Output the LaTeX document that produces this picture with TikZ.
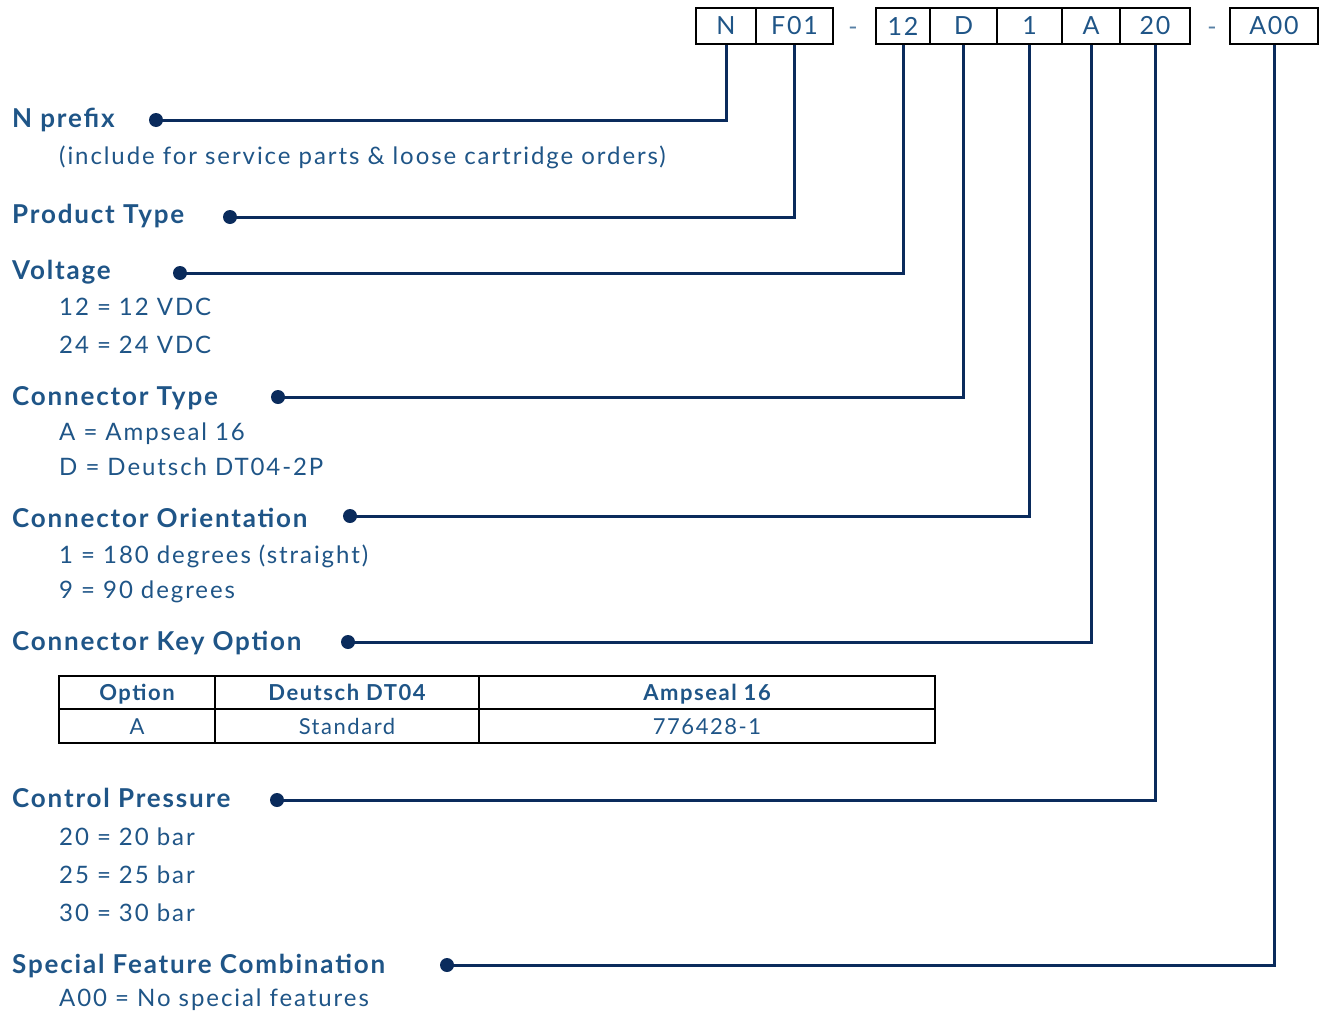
\documentclass[tikz,border=0pt]{standalone}
\usepackage{fontspec}
\setmainfont{Lato}[LetterSpace=7]
\usepackage{tikz}
\usetikzlibrary{positioning}

\definecolor{codeblue}{HTML}{1F5587}
\definecolor{linenavy}{HTML}{0A2B5C}

\tikzset{
    codebox/.style={draw=black, line width=1.6pt, minimum height=36pt, inner sep=0pt,
        text=codeblue, font=\fontsize{25}{28}\selectfont},
    heading/.style={anchor=base west, inner sep=0pt, text=codeblue,
        font=\bfseries\fontsize{26}{28}\selectfont},
    choice/.style={anchor=base west, inner sep=0pt, text=codeblue,
        font=\fontsize{24}{28}\selectfont\addfontfeature{LetterSpace=8}},
    pindot/.style={circle, fill=linenavy, minimum size=14pt, inner sep=0pt},
    lead/.style={draw=linenavy, line width=3pt},
    cell/.style={anchor=base, inner sep=0pt, text=codeblue, font=\fontsize{22}{26}\selectfont},
    headcell/.style={cell, font=\bfseries\fontsize{22}{26}\selectfont},
    sep/.style={anchor=base, inner sep=0pt, text=codeblue!75, font=\fontsize{25}{28}\selectfont},
}

\begin{document}
\begin{tikzpicture}[x=1pt, y=-1pt]
    \useasboundingbox (0,0) rectangle (1325,1012);

    % The part number boxes
    \node[codebox, minimum width=60pt] (bN)   at (726,26)    {N};
    \node[codebox, minimum width=77pt] (bF)   at (794.5,26)  {F01};
    \node[sep] (dashA) at (853,35) {-};
    \node[codebox, minimum width=54pt] (bV)   at (903,26)    {12};
    \node[codebox, minimum width=67pt] (bC)   at (963.5,26)  {D};
    \node[codebox, minimum width=65pt] (bO)   at (1029.5,26) {1};
    \node[codebox, minimum width=58pt] (bK)   at (1091,26)   {A};
    \node[codebox, minimum width=70pt] (bP)   at (1155,26)   {20};
    \node[sep] (dashB) at (1212,35) {-};
    \node[codebox, minimum width=88pt] (bS)   at (1274,26)   {A00};

    % Headings and their options
    \node[heading] (hN) at (12,127) {N prefix};
    \node[choice]  (oN) at (59,164) {(include for service parts \& loose cartridge orders)};

    \node[heading] (hF) at (12,223) {Product Type};

    \node[heading] (hV) at (12,279) {Voltage};
    \node[choice]  (oV1) at (59,315) {12 = 12 VDC};
    \node[choice]  (oV2) at (59,353) {24 = 24 VDC};

    \node[heading] (hC) at (12,405) {Connector Type};
    \node[choice]  (oC1) at (59,440) {A = Ampseal 16};
    \node[choice]  (oC2) at (59,475) {D = Deutsch DT04-2P};

    \node[heading] (hO) at (12,527) {Connector Orientation};
    \node[choice]  (oO1) at (59,563) {1 = 180 degrees (straight)};
    \node[choice]  (oO2) at (59,598) {9 = 90 degrees};

    \node[heading] (hK) at (12,650) {Connector Key Option};

    \node[heading] (hP) at (12,807) {Control Pressure};
    \node[choice]  (oP1) at (59,845) {20 = 20 bar};
    \node[choice]  (oP2) at (59,883) {25 = 25 bar};
    \node[choice]  (oP3) at (59,921) {30 = 30 bar};

    \node[heading] (hS) at (12,973) {Special Feature Combination};
    \node[choice]  (oS) at (59,1006) {A00 = No special features};

    % Key option table
    \draw[line width=1.6pt] (59,676) rectangle (935,743);
    \draw[line width=1.6pt] (59,709) -- (935,709);
    \draw[line width=1.6pt] (215,676) -- (215,743);
    \draw[line width=1.6pt] (479,676) -- (479,743);
    \node[headcell] (t11) at (137,700) {Option};
    \node[headcell] (t12) at (347,700) {Deutsch DT04};
    \node[headcell] (t13) at (707,700) {Ampseal 16};
    \node[cell] (t21) at (137,734) {A};
    \node[cell] (t22) at (347,734) {Standard};
    \node[cell] (t23) at (707,734) {776428-1};

    % Dots at the end of the leads
    \node[pindot] (dN) at (156,120) {};
    \node[pindot] (dF) at (230,217) {};
    \node[pindot] (dV) at (180,273) {};
    \node[pindot] (dC) at (278,397) {};
    \node[pindot] (dO) at (350,516) {};
    \node[pindot] (dK) at (348,642) {};
    \node[pindot] (dP) at (277,800) {};
    \node[pindot] (dS) at (447,965) {};

    % Leads from the boxes
    \draw[lead] (bN.south) |- (dN.center);
    \draw[lead] (bF.south) |- (dF.center);
    \draw[lead] (bV.south) |- (dV.center);
    \draw[lead] (bC.south) |- (dC.center);
    \draw[lead] (bO.south) |- (dO.center);
    \draw[lead] (bK.south) |- (dK.center);
    \draw[lead] (bP.south) |- (dP.center);
    \draw[lead] (bS.south) |- (dS.center);
\end{tikzpicture}
\end{document}
